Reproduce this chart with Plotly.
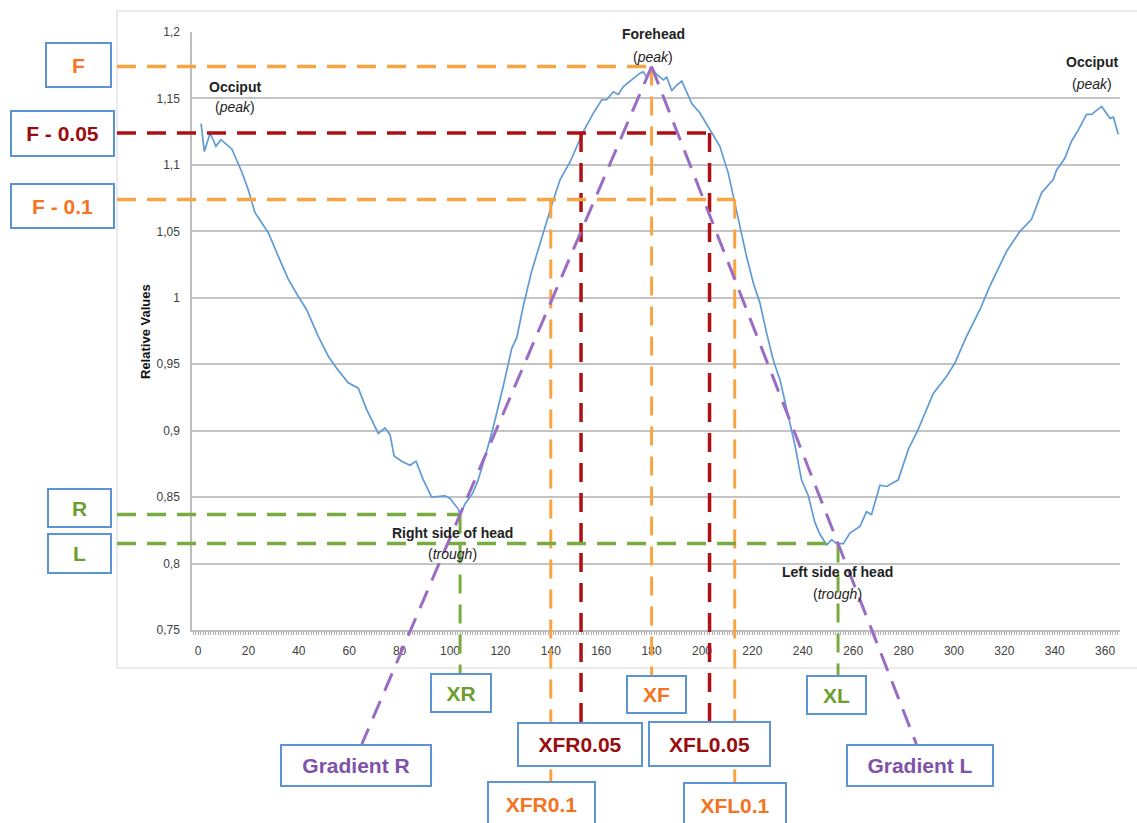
import plotly.graph_objects as go

# ---------------- data ----------------
angle = [1.2, 2.5, 4.8, 7.1, 9.1, 13.4, 17.3, 20.0, 22.6, 27.9, 31.9, 35.8, 39.8, 43.1,
         47.7, 51.7, 55.0, 59.6, 63.6, 66.9, 71.5, 74.2, 76.2, 77.8, 80.8, 84.1, 86.5,
         89.4, 92.7, 98.0, 100.0, 103.3, 104.0, 106.0, 109.0, 111.0, 113.9, 117.2, 121.2,
         124.5, 126.5, 129.1, 132.4, 137.0, 140.4, 143.7, 147.6, 152.9, 156.9, 160.2,
         162.2, 164.8, 166.8, 168.8, 172.1, 175.4, 176.7, 178.1, 180.0, 182.0, 184.7,
         186.0, 188.0, 190.0, 192.0, 194.0, 196.0, 199.2, 203.2, 207.1, 210.4, 212.4,
         215.1, 217.7, 220.4, 223.0, 225.7, 228.3, 231.0, 233.6, 236.9, 239.5, 242.2,
         244.8, 246.8, 249.5, 251.5, 253.4, 256.1, 258.7, 262.7, 265.3, 267.3, 270.6,
         273.3, 277.9, 281.9, 285.8, 291.8, 297.1, 300.4, 305.0, 310.3, 314.3, 318.3,
         320.9, 326.2, 330.8, 334.8, 339.4, 340.7, 344.0, 346.7, 349.3, 352.6, 354.6,
         358.6, 362.0, 363.3, 365.2]
relative = [1.131, 1.110, 1.124, 1.114, 1.119, 1.112, 1.095, 1.081, 1.064, 1.049, 1.031,
            1.014, 1.001, 0.991, 0.971, 0.956, 0.947, 0.936, 0.932, 0.916, 0.898, 0.902,
            0.897, 0.881, 0.877, 0.874, 0.877, 0.863, 0.850, 0.851, 0.849, 0.841, 0.837,
            0.845, 0.853, 0.862, 0.880, 0.903, 0.934, 0.962, 0.970, 0.994, 1.020, 1.049,
            1.070, 1.089, 1.102, 1.125, 1.139, 1.149, 1.149, 1.155, 1.153, 1.159, 1.164,
            1.169, 1.170, 1.166, 1.173, 1.168, 1.164, 1.166, 1.156, 1.160, 1.163, 1.155,
            1.146, 1.139, 1.126, 1.114, 1.094, 1.076, 1.054, 1.031, 1.011, 0.996, 0.973,
            0.953, 0.938, 0.916, 0.889, 0.863, 0.851, 0.831, 0.822, 0.814, 0.818, 0.815,
            0.815, 0.823, 0.828, 0.839, 0.837, 0.859, 0.858, 0.863, 0.886, 0.901, 0.928,
            0.941, 0.951, 0.971, 0.991, 1.009, 1.024, 1.035, 1.050, 1.059, 1.079, 1.089,
            1.096, 1.105, 1.118, 1.126, 1.138, 1.138, 1.144, 1.135, 1.136, 1.123]

F = 1.174
F005 = F - 0.05
F01 = F - 0.1
XF = 180
XFR005 = 152
XFL005 = 203
XFR01 = 140
XFL01 = 213
R = 0.837
XR = 104
L = 0.815
XL = 254

x_tickvals = list(range(0, 361, 20))
y_tickvals = [0.75, 0.8, 0.85, 0.9, 0.95, 1.0, 1.05, 1.1, 1.15, 1.2]
y_ticktext = ["0,75", "0,8", "0,85", "0,9", "0,95", "1", "1,05", "1,1", "1,15", "1,2"]

# ---------------- layout geometry ----------------
W, H = 1137, 823
PL, PR, PT, PB = 192, 1120, 32, 630          # plot area edges in pixels
XR0, XR1 = -2.4, 365.9
YR0, YR1 = 0.75, 1.2
ux = (PR - PL) / (XR1 - XR0)
uy = (PB - PT) / (YR1 - YR0)
# overlay axes spanning the whole figure, in the same data units
X2 = [XR0 - PL / ux, XR1 + (W - PR) / ux]
Y2 = [YR0 - (H - PB) / uy, YR1 + PT / uy]


def dx(px):
    return X2[0] + px / ux


def dy(py):
    return Y2[1] - py / uy


ORANGE = "#F9A443"
RED = "#AE1014"
GREEN = "#79AC40"
PURPLE = "#9B6CC3"
T_ORANGE = "#F4741F"
T_RED = "#9A0C10"
T_GREEN = "#6D9F2E"
T_PURPLE = "#7D52A8"
BOX = "#5B93D3"
FONT = "Liberation Sans, Arial, sans-serif"
DASH = "19px,11px"

fig = go.Figure()
fig.add_trace(go.Scatter(x=angle, y=relative, mode="lines",
                         line=dict(color="#5F9BD6", width=1.7),
                         hoverinfo="skip", showlegend=False))
fig.add_trace(go.Scatter(x=[], y=[], xaxis="x2", yaxis="y2", showlegend=False,
                         hoverinfo="skip"))

shapes = []
# chart-area frame
shapes.append(dict(type="rect", xref="paper", yref="paper", x0=117 / W, x1=1.05,
                   y0=1 - 668 / H, y1=1 - 11 / H, line=dict(color="#D6D6D6", width=1),
                   layer="below"))


def seg(x0, y0, x1, y1, color, width=3.5):
    shapes.append(dict(type="line", xref="x2", yref="y2", x0=x0, y0=y0, x1=x1, y1=y1,
                       line=dict(color=color, width=width, dash=DASH)))


left = dx(117)
# vertical drop lines to the boxes
seg(XF, F, XF, dy(675), ORANGE, 3)
seg(XFR01, F01, XFR01, dy(781), ORANGE, 3)
seg(XFL01, F01, XFL01, dy(782), ORANGE, 3)
seg(XFR005, F005, XFR005, dy(722), RED, 3.5)
seg(XFL005, F005, XFL005, dy(721), RED, 3.5)
seg(XR, R, XR, dy(673), GREEN, 3)
seg(XL, L, XL, dy(675), GREEN, 3)
# horizontal lines from the label boxes
seg(left, F, XF, F, ORANGE)
seg(left, F005, XFL005, F005, RED)
seg(left, F01, XFL01, F01, ORANGE)
seg(left, R, XR, R, GREEN)
seg(left, L, XL, L, GREEN)
# gradient lines: from forehead peak through the troughs
for xt, yt, ybox in [(XR, R, dy(744)), (XL, L, dy(744))]:
    t = (F - ybox) / (F - yt)
    seg(XF, F, XF + (xt - XF) * t, ybox, PURPLE, 3)

annotations = []


def box(text, color, x0, y0, x1, y1, size=21):
    annotations.append(dict(
        xref="paper", yref="paper", x=(x0 + x1) / 2 / W, y=1 - (y0 + y1) / 2 / H,
        xanchor="center", yanchor="middle", showarrow=False,
        text="<b>" + text + "</b>", font=dict(family=FONT, size=size, color=color),
        width=x1 - x0 - 6, height=y1 - y0 - 6, borderpad=1, borderwidth=2,
        bordercolor=BOX, bgcolor="white", align="center", valign="middle"))


box("F", T_ORANGE, 45, 42, 112, 88)
box("F - 0.05", T_RED, 10, 110, 115, 157)
box("F - 0.1", T_ORANGE, 10, 183, 115, 229)
box("R", T_GREEN, 47, 488, 112, 528)
box("L", T_GREEN, 47, 533, 112, 574)
box("XR", T_GREEN, 430, 673, 492, 713)
box("Gradient R", T_PURPLE, 280, 744, 432, 787)
box("XFR0.05", T_RED, 517, 722, 643, 767)
box("XFR0.1", T_ORANGE, 487, 781, 596, 827)
box("XF", T_ORANGE, 626, 675, 687, 714)
box("XFL0.05", T_RED, 648, 721, 771, 767)
box("XFL0.1", T_ORANGE, 683, 782, 787, 828)
box("XL", T_GREEN, 806, 675, 867, 715)
box("Gradient L", T_PURPLE, 846, 744, 994, 787)


def label(line1, line2, cx, y1, y2):
    annotations.append(dict(xref="paper", yref="paper", x=cx / W, y=1 - y1 / H,
                            xanchor="center", yanchor="middle", showarrow=False,
                            text="<b>" + line1 + "</b>",
                            font=dict(family=FONT, size=14, color="#222222")))
    annotations.append(dict(xref="paper", yref="paper", x=cx / W, y=1 - y2 / H,
                            xanchor="center", yanchor="middle", showarrow=False,
                            text=line2,
                            font=dict(family=FONT, size=14, color="#222222")))


label("Occiput", "(<i>peak</i>)", 235, 87, 107)
label("Forehead", "(<i>peak</i>)", 653, 34, 57)
label("Occiput", "(<i>peak</i>)", 1092, 62, 84)
label("Right side of head", "(<i>trough</i>)", 452, 533, 554)
label("Left side of head", "(<i>trough</i>)", 837, 572, 594)

annotations.append(dict(xref="paper", yref="paper", x=145 / W, y=1 - 332 / H,
                        xanchor="center", yanchor="middle", showarrow=False,
                        textangle=-90, text="<b>Relative Values</b>",
                        font=dict(family=FONT, size=13, color="#111111")))

fig.update_layout(
    width=W, height=H,
    margin=dict(l=0, r=0, t=0, b=0),
    paper_bgcolor="white", plot_bgcolor="rgba(0,0,0,0)",
    showlegend=False,
    shapes=shapes, annotations=annotations,
    xaxis=dict(domain=[PL / W, PR / W], range=[XR0, XR1], anchor="y",
               tickmode="array", tickvals=x_tickvals, showgrid=False, zeroline=False,
               showline=True, linecolor="#BDBDBD", linewidth=1.5,
               ticks="outside", ticklen=3, tickcolor="#A8A8A8", ticklabelstandoff=6,
               minor=dict(tick0=0, dtick=1, ticks="outside", ticklen=3,
                          tickcolor="#B0B0B0", tickwidth=1, showgrid=False),
               tickfont=dict(family=FONT, size=12, color="#404040"), automargin=False),
    yaxis=dict(domain=[1 - PB / H, 1 - PT / H], range=[YR0, YR1], anchor="x",
               tickmode="array", tickvals=y_tickvals, ticktext=y_ticktext,
               showgrid=True, gridcolor="#C4C4C4", gridwidth=1.5, zeroline=False,
               showline=True, linecolor="#BDBDBD", linewidth=1.5, ticks="",
               ticklabelstandoff=8,
               tickfont=dict(family=FONT, size=12, color="#404040"), automargin=False),
    xaxis2=dict(domain=[0, 1], range=X2, anchor="y2", visible=False, fixedrange=True),
    yaxis2=dict(domain=[0, 1], range=Y2, anchor="x2", visible=False, fixedrange=True),
)

fig.write_html("out.html", config={"displayModeBar": False},
               post_script="document.body.style.margin='0px';"
                           "document.body.style.overflow='hidden';")
